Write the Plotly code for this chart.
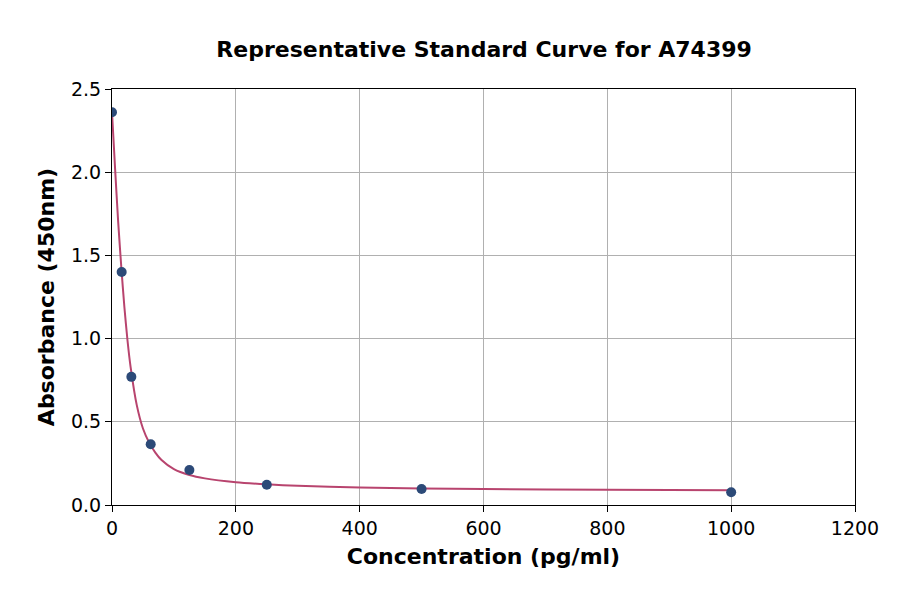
import plotly.graph_objects as go

# standard points
conc = [0, 15.6, 31.25, 62.5, 125, 250, 500, 1000]
absorb = [2.36, 1.40, 0.77, 0.365, 0.21, 0.122, 0.096, 0.077]

# fitted curve
curve_x = [0, 5, 10, 15, 20, 25, 30, 40, 50, 60, 70, 80, 100, 125, 150, 200,
           250, 300, 400, 500, 600, 800, 1000]
curve_y = [2.36, 2.02, 1.70, 1.43, 1.19, 0.99, 0.83, 0.60, 0.46, 0.375, 0.315,
           0.27, 0.215, 0.18, 0.16, 0.137, 0.124, 0.115, 0.105, 0.099, 0.096,
           0.092, 0.089]

font = "DejaVu Sans"

fig = go.Figure()
fig.add_trace(go.Scatter(
    x=curve_x, y=curve_y, mode="lines",
    line=dict(color="#b8446e", width=2, shape="spline", smoothing=0.6),
    hoverinfo="skip", showlegend=False
))
fig.add_trace(go.Scatter(
    x=conc, y=absorb, mode="markers",
    marker=dict(color="#2c4a78", size=10),
    showlegend=False
))

axis_common = dict(
    showline=True, linecolor="black", linewidth=1.2, mirror=True,
    showgrid=True, gridcolor="#b0b0b0", gridwidth=1,
    ticks="outside", ticklen=6, tickcolor="black",
    tickfont=dict(family=font, size=19, color="black"),
    zeroline=False,
)

fig.update_xaxes(
    range=[0, 1200], tickvals=[0, 200, 400, 600, 800, 1000, 1200],
    title=dict(text="<b>Concentration (pg/ml)</b>",
               font=dict(family=font, size=22, color="black"), standoff=10),
    **axis_common
)
fig.update_yaxes(
    range=[0, 2.5], tickvals=[0, 0.5, 1.0, 1.5, 2.0, 2.5],
    ticktext=["0.0", "0.5", "1.0", "1.5", "2.0", "2.5"],
    title=dict(text="<b>Absorbance (450nm)</b>",
               font=dict(family=font, size=22, color="black"), standoff=10),
    **axis_common
)

fig.update_layout(
    width=900, height=594,
    margin=dict(l=104, r=53, t=81, b=97),
    plot_bgcolor="white", paper_bgcolor="white",
    title=dict(text="<b>Representative Standard Curve for A74399</b>",
               font=dict(family=font, size=22, color="black"),
               x=0.529, xanchor="center", y=0.931, yanchor="middle"),
)

fig.write_html("out.html")
